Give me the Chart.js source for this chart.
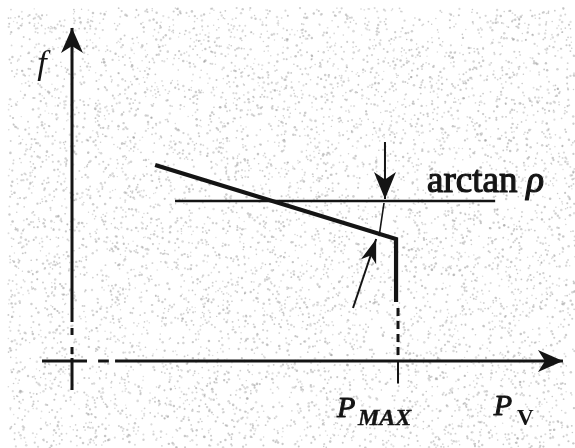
<!DOCTYPE html>
<html>
<head>
<meta charset="utf-8">
<title>f over P_V</title>
<script src="https://cdn.jsdelivr.net/npm/chart.js@4"></script>
<style>
  html, body { margin: 0; padding: 0; background: #fff; }
  #wrap { width: 575px; height: 448px; }
  canvas { filter: blur(0.5px); }
</style>
</head>
<body>
<div id="wrap"><canvas id="diagram" width="575" height="448"></canvas></div>
<script>
// units: P_MAX sits at x = 1, the arctan rho level at y = 1
const pMax = 1.0;
const rhoLevel = 1.0;

// characteristic: sloping part, knee at P_MAX, vertical drop
const curveX = [0.255, 0.994, 0.994];
const curveY = [1.225, 0.7625, 0.369];

// arctan rho reference line
const rhoLineX = [0.316, 1.298];

// dashed drop from the knee towards the axis
const dropY = [0.331, 0.0375];

// angle markers around the knee
const downArrowX = [0.960, 0.960];
const downArrowY = [1.369, 1.0125];
const markerX = [0.957, 0.942];
const markerY = [0.9875, 0.781];
const upArrowX = [0.862, 0.933];
const upArrowY = [0.331, 0.7625];

// axes in pieces, so the bits near the origin come out dash-dot
const yAxisPieces = [[0.244, 2.081], [0.206, 0.163], [0.088, 0.044], [0.019, -0.181]];
const xAxisPieces = [[-0.092, 0.046], [0.080, 0.113], [0.132, 1.506]];
const tickY = [0, -0.14];

const INK = '#141414';

function line(xs, ys, opts) {
    return Object.assign({
        data: xs.map((x, i) => ({ x: x, y: ys[i] })),
        showLine: true,
        pointRadius: 0,
        borderColor: INK,
        borderWidth: 3,
        borderCapStyle: 'butt',
        tension: 0,
        fill: false
    }, opts);
}

const datasets = [];
yAxisPieces.forEach((p, i) => {
    datasets.push(line([0, 0], p, i === 0 ? { head: { len: 25, half: 11 } } : {}));
});
xAxisPieces.forEach((p, i) => {
    datasets.push(line(p, [0, 0], i === xAxisPieces.length - 1 ? { head: { len: 25, half: 11 } } : {}));
});
datasets.push(line([pMax, pMax], tickY, { borderWidth: 2 }));
datasets.push(line([pMax, pMax], dropY, { borderWidth: 3, borderDash: [8, 5] }));
datasets.push(line(rhoLineX, [rhoLevel, rhoLevel], { borderWidth: 2.5 }));
datasets.push(line(curveX, curveY, { borderWidth: 4.2, borderJoinStyle: 'miter' }));
datasets.push(line(downArrowX, downArrowY, { borderWidth: 2, head: { len: 27, half: 11 } }));
datasets.push(line(markerX, markerY, { borderWidth: 1.6 }));
datasets.push(line(upArrowX, upArrowY, { borderWidth: 2, head: { len: 24, half: 8 } }));

// grainy paper behind everything
const paper = {
    id: 'paper',
    beforeDraw(chart) {
        const ctx = chart.ctx;
        ctx.save();
        ctx.fillStyle = '#fff';
        ctx.fillRect(0, 0, chart.width, chart.height);
        let s = 48271;
        const rnd = () => (s = (s * 16807) % 2147483647) / 2147483647;
        for (let i = 0; i < 7000; i++) {
            const x = 8 + rnd() * (chart.width - 8);
            const y = 8 + rnd() * (chart.height - 8);
            const r = 0.7 + rnd() * 0.6;
            const g = Math.round(150 + rnd() * 50);
            ctx.fillStyle = 'rgba(' + g + ',' + g + ',' + g + ',0.55)';
            ctx.beginPath();
            ctx.arc(x, y, r, 0, Math.PI * 2);
            ctx.fill();
        }
        ctx.restore();
    }
};

// barbed arrowheads at the last point of flagged lines
const arrowHeads = {
    id: 'arrowHeads',
    afterDatasetsDraw(chart) {
        const ctx = chart.ctx;
        chart.data.datasets.forEach((ds, i) => {
            if (!ds.head) return;
            const pts = chart.getDatasetMeta(i).data;
            const a = pts[pts.length - 2], b = pts[pts.length - 1];
            const ang = Math.atan2(b.y - a.y, b.x - a.x);
            const L = ds.head.len, H = ds.head.half;
            ctx.save();
            ctx.translate(b.x, b.y);
            ctx.rotate(ang);
            ctx.fillStyle = INK;
            ctx.beginPath();
            ctx.moveTo(0, 0);
            ctx.lineTo(-L, -H);
            ctx.lineTo(-L * 0.72, 0);
            ctx.lineTo(-L, H);
            ctx.closePath();
            ctx.fill();
            ctx.restore();
        });
    }
};

// axis names and the annotation text (stroked a little for weight)
const labels = {
    id: 'labels',
    afterDraw(chart) {
        const ctx = chart.ctx;
        const px = v => chart.scales.x.getPixelForValue(v);
        const py = v => chart.scales.y.getPixelForValue(v);
        const put = (text, x, y, font, weight, align) => {
            ctx.font = font;
            ctx.textAlign = align || 'left';
            ctx.textBaseline = 'alphabetic';
            ctx.fillText(text, px(x), py(y));
            if (weight) {
                ctx.lineWidth = weight;
                ctx.strokeText(text, px(x), py(y));
            }
        };
        ctx.save();
        ctx.fillStyle = INK;
        ctx.strokeStyle = INK;
        ctx.lineJoin = 'round';
        put('f', -0.092, 1.794, 'italic 34px "Liberation Serif"', 0, 'center');
        put('arctan', 1.089, 1.056, '37px "Liberation Serif"', 1.2);
        put('ρ', 1.393, 1.056, 'italic 37px "Liberation Serif"', 1.2);
        put('P', pMax - 0.187, -0.35, 'italic 30px "Liberation Serif"', 1.0);
        put('MAX', pMax - 0.123, -0.4, 'italic bold 24px "Liberation Serif"', 0.4);
        put('P', 1.294, -0.3375, 'italic 30px "Liberation Serif"', 1.0);
        put('V', 1.365, -0.4, 'bold 23px "Liberation Serif"', 0);
        ctx.restore();
    }
};

new Chart(document.getElementById('diagram').getContext('2d'), {
    type: 'scatter',
    data: { datasets: datasets },
    options: {
        responsive: false,
        devicePixelRatio: 1,
        animation: false,
        events: [],
        layout: { padding: 0 },
        plugins: { legend: { display: false }, tooltip: { enabled: false } },
        scales: {
            x: { type: 'linear', min: -0.2209, max: 1.5429, display: false },
            y: { type: 'linear', min: -0.54375, max: 2.25625, display: false }
        }
    },
    plugins: [paper, arrowHeads, labels]
});
</script>
</body>
</html>
